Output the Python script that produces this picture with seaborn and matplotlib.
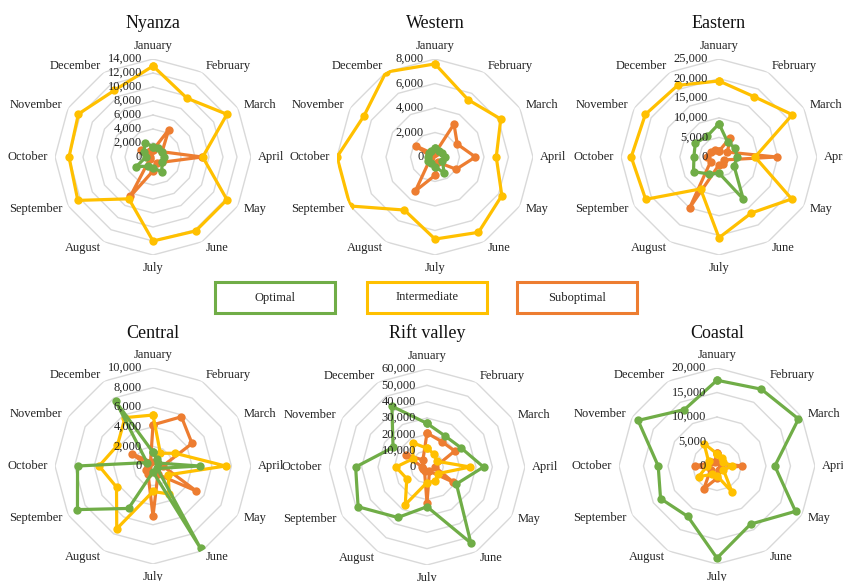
import numpy as np
import pandas as pd
import matplotlib
matplotlib.use("Agg")
import matplotlib.pyplot as plt
import matplotlib.transforms as mtransforms
from matplotlib.patches import Rectangle
import seaborn as sns

sns.set_theme(style="white")
plt.rcParams['font.family'] = ['Liberation Serif', 'DejaVu Serif']

months = ["January", "February", "March", "April", "May", "June",
          "July", "August", "September", "October", "November", "December"]
classes = ["Optimal", "Intermediate", "Suboptimal"]
colors = {"Optimal": "#70AD47", "Intermediate": "#FFC000", "Suboptimal": "#ED7D31"}

# values (per month, Jan..Dec)
nyanza_opt = [1500, 1500, 1500, 1500, 1500, 2500, 1500, 1500, 2800, 1000, 1500, 2300]
nyanza_int = [13000, 9700, 12200, 7100, 12200, 12200, 12000, 6900, 12400, 12000, 12300, 11000]
nyanza_sub = [1000, 4500, 1500, 7000, 1500, 1000, 2000, 6500, 500, 500, 2000, 1000]

western_opt = [700, 600, 700, 800, 700, 1500, 800, 600, 700, 600, 600, 600]
western_int = [7600, 5400, 6200, 5000, 6300, 7100, 6700, 5000, 8000, 8000, 6700, 8000]
western_sub = [300, 3100, 2100, 3300, 2000, 500, 1500, 3200, 500, 300, 1800, 300]

eastern_opt = [8500, 4400, 4600, 4700, 4400, 12400, 4100, 5000, 7500, 6400, 7000, 6100]
eastern_int = [19400, 17800, 21600, 9200, 21400, 16500, 20600, 9400, 21600, 22400, 21700, 21100]
eastern_sub = [1500, 5600, 2500, 14700, 1500, 2000, 2000, 15000, 2500, 3000, 2500, 2000]

central_opt = [1400, 800, 600, 4750, 500, 9700, 600, 5000, 8900, 7700, 700, 7600]
central_int = [5200, 1500, 2600, 7400, 1800, 3300, 2600, 7400, 4300, 5500, 4200, 5700]
central_sub = [4200, 5800, 4600, 1000, 5100, 1000, 5100, 1000, 800, 500, 2500, 500]

rift_opt = [26700, 22000, 23800, 34600, 20800, 53700, 24300, 35700, 48700, 43700, 24000, 43000]
rift_int = [11500, 9000, 7000, 26400, 8000, 10000, 9500, 26600, 14300, 19000, 10000, 17000]
rift_sub = [20800, 18000, 19600, 5000, 18500, 3000, 22000, 3000, 3000, 3000, 15000, 5000]

coastal_opt = [17500, 18100, 19200, 11800, 18500, 13700, 18800, 11900, 13300, 12000, 18600, 13300]
coastal_int = [2500, 2000, 1500, 3100, 1500, 6100, 2000, 2000, 4300, 2000, 2000, 5300]
coastal_sub = [2600, 1500, 1000, 5200, 1000, 1000, 2500, 5400, 1500, 4500, 1500, 1000]

regions = ["Nyanza", "Western", "Eastern", "Central", "Rift valley", "Coastal"]
region_data = [
    (nyanza_opt, nyanza_int, nyanza_sub),
    (western_opt, western_int, western_sub),
    (eastern_opt, eastern_int, eastern_sub),
    (central_opt, central_int, central_sub),
    (rift_opt, rift_int, rift_sub),
    (coastal_opt, coastal_int, coastal_sub),
]
axis_max = [14000, 8000, 25000, 10000, 60000, 20000]
axis_step = [2000, 2000, 5000, 2000, 10000, 5000]

# panel centres in pixels
centres = [(153, 157), (435, 157), (719, 157), (153, 466), (427, 467), (717, 466)]
title_y = [23, 23, 23, 333, 333, 333]
R = 98
W, H = 843, 581

fig = plt.figure(figsize=(W / 100, H / 100), dpi=100)

theta = np.linspace(0, 2 * np.pi, 12, endpoint=False)
theta_closed = np.append(theta, 2 * np.pi)

for i, name in enumerate(regions):
    cx, cy = centres[i]
    ax = fig.add_axes([(cx - R) / W, 1 - (cy + R) / H, 2 * R / W, 2 * R / H],
                      projection="polar")
    ax.set_theta_zero_location("N")
    ax.set_theta_direction(-1)
    ax.set_facecolor("none")
    ax.grid(False)
    ax.spines["polar"].set_visible(False)

    rmax = axis_max[i]
    ticks = np.arange(0, rmax + 1, axis_step[i])
    for t in ticks[1:]:
        ax.plot(theta_closed, [t] * 13, color="#D9D9D9", lw=1, zorder=0)

    rows = []
    for cls, vals in zip(classes, region_data[i]):
        vals_closed = list(vals) + [vals[0]]
        for th, v in zip(theta_closed, vals_closed):
            rows.append({"theta": th, "value": v, "class": cls})
    df = pd.DataFrame(rows)
    sns.lineplot(data=df, x="theta", y="value", hue="class",
                 hue_order=["Suboptimal", "Intermediate", "Optimal"],
                 palette=colors, sort=False, estimator=None, marker="o",
                 markersize=6, markeredgewidth=0, linewidth=2.3,
                 legend=False, ax=ax)
    ax.set_xlabel("")
    ax.set_ylabel("")
    ax.set_xticks([])
    ax.set_yticks([])
    ax.set_ylim(0, rmax)

    # radial tick labels along the January axis
    off = mtransforms.offset_copy(ax.transData, fig=fig, x=-11, y=0, units="dots")
    for t in ticks:
        ax.text(0, t, f"{int(t):,}", transform=off, ha="right", va="center",
                fontsize=9, color="#222222", zorder=10, clip_on=False)

    # month labels
    for th, m in zip(theta, months):
        deg = np.degrees(th)
        if deg == 0:
            ha, va = "center", "bottom"
        elif deg == 180:
            ha, va = "center", "top"
        elif deg < 180:
            ha, va = "left", "center"
        else:
            ha, va = "right", "center"
        ax.text(th, rmax * 1.07, m, ha=ha, va=va, fontsize=9,
                color="#222222", clip_on=False)

    fig.text(cx / W, 1 - title_y[i] / H, name, ha="center", va="center",
             fontsize=13, color="#111111")

# legend boxes
boxes = [(215, "Optimal"), (367, "Intermediate"), (517, "Suboptimal")]
for x0, cls in boxes:
    fig.patches.append(Rectangle((x0 / W, 1 - 313 / H), 120 / W, 31 / H,
                                 transform=fig.transFigure, fill=False,
                                 edgecolor=colors[cls], linewidth=2.2))
    fig.text((x0 + 60) / W, 1 - 297.5 / H, cls, ha="center", va="center",
             fontsize=9, color="#222222")

fig.savefig("out.png", dpi=100, facecolor="white")
